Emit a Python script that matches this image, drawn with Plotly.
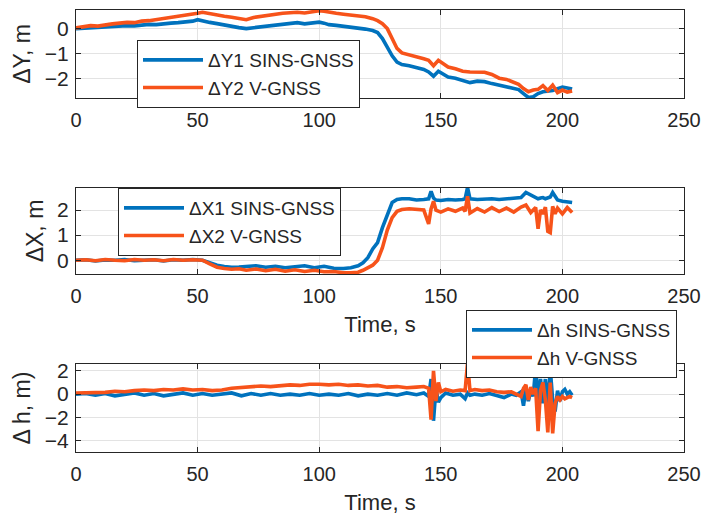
import plotly.graph_objects as go

BLUE = "#0072BD"
ORANGE = "#F7531A"

# ---------- Panel 1: dY ----------
t1 = [0, 3, 6, 9, 12, 15, 18, 21, 24, 27, 30, 33, 36, 39, 42, 45, 48, 50, 52, 55, 58, 61, 64, 67,
      70, 73, 76, 79, 82, 85, 88, 91, 94, 97, 100, 102, 104, 107, 110, 113, 116, 119, 122, 124,
      126, 128, 130, 132, 134, 137, 140, 143, 145, 147, 149, 151, 153, 156, 159, 162, 165, 168,
      171, 174, 177, 180, 182, 184, 186, 188, 190, 192, 194, 196, 198, 200, 202, 204]
dy1 = [0.00, 0.02, 0.03, 0.06, 0.05, 0.09, 0.10, 0.12, 0.11, 0.15, 0.17, 0.16, 0.20, 0.22, 0.24,
       0.27, 0.30, 0.36, 0.33, 0.25, 0.20, 0.14, 0.09, 0.04, 0.00, 0.03, 0.08, 0.10, 0.14, 0.17,
       0.20, 0.24, 0.19, 0.22, 0.26, 0.22, 0.16, 0.13, 0.10, 0.06, 0.02, -0.02, -0.08, -0.16,
       -0.40, -0.75, -1.10, -1.35, -1.45, -1.50, -1.58, -1.65, -1.75, -1.92, -1.72, -1.85, -1.95,
       -2.00, -2.08, -2.18, -2.12, -2.14, -2.22, -2.28, -2.34, -2.40, -2.46, -2.62, -2.78, -2.75,
       -2.62, -2.55, -2.52, -2.50, -2.42, -2.36, -2.40, -2.44]
dy2 = [0.03, 0.06, 0.12, 0.10, 0.16, 0.19, 0.22, 0.25, 0.24, 0.30, 0.32, 0.36, 0.40, 0.44, 0.48,
       0.53, 0.58, 0.62, 0.66, 0.60, 0.56, 0.50, 0.46, 0.41, 0.36, 0.45, 0.50, 0.55, 0.58, 0.62,
       0.64, 0.66, 0.63, 0.68, 0.72, 0.70, 0.66, 0.62, 0.58, 0.55, 0.52, 0.48, 0.40, 0.32,
       0.20, 0.00, -0.40, -0.80, -0.98, -1.05, -1.12, -1.22, -1.28, -1.50, -1.28, -1.42, -1.55,
       -1.62, -1.72, -1.75, -1.74, -1.76, -1.85, -2.00, -2.05, -2.18, -2.25, -2.42, -2.55, -2.48,
       -2.45, -2.30, -2.50, -2.28, -2.58, -2.48, -2.56, -2.52]

# ---------- Panel 2: dX ----------
t2 = [0, 4, 8, 12, 16, 20, 24, 28, 32, 36, 40, 44, 48, 52, 55, 58, 61, 64, 67, 70, 74, 78, 82, 86,
      90, 94, 98, 102, 106, 110, 113, 116, 118, 120, 122, 124, 126, 128, 130, 132, 134, 137, 140,
      143, 145, 146, 147, 148, 150, 153, 156, 159, 160, 161, 162, 165, 168, 171, 174, 177, 180,
      183, 185, 187, 189, 190, 191, 192, 193, 194, 195, 196, 197, 198, 200, 202, 204]
dx1 = [0.00, 0.02, -0.03, 0.01, 0.00, 0.03, -0.02, 0.01, 0.02, -0.03, 0.02, 0.00, 0.03, 0.00,
       -0.10, -0.20, -0.25, -0.28, -0.27, -0.25, -0.22, -0.28, -0.24, -0.30, -0.26, -0.22, -0.30,
       -0.24, -0.32, -0.33, -0.30, -0.22, -0.10, 0.10, 0.45, 0.70, 1.30, 1.85, 2.30, 2.42, 2.45,
       2.45, 2.40, 2.42, 2.45, 2.75, 2.48, 2.40, 2.38, 2.42, 2.40, 2.42, 2.45, 2.90, 2.45, 2.42,
       2.44, 2.45, 2.42, 2.44, 2.45, 2.50, 2.70, 2.60, 2.50, 2.45, 2.48, 2.50, 2.45, 2.48, 2.52,
       2.70, 2.55, 2.40, 2.35, 2.32, 2.30]
dx2 = [0.00, 0.02, -0.02, 0.03, 0.00, -0.02, 0.03, 0.00, 0.02, -0.02, 0.03, 0.00, 0.02, 0.00,
       -0.15, -0.28, -0.33, -0.36, -0.34, -0.40, -0.35, -0.42, -0.36, -0.44, -0.38, -0.45, -0.40,
       -0.46, -0.45, -0.50, -0.50, -0.48, -0.40, -0.30, -0.20, 0.00, 0.50, 1.20, 1.70, 1.95, 2.02,
       2.05, 2.02, 2.00, 1.45, 2.05, 2.35, 2.00, 1.92, 2.05, 1.95, 2.08, 1.95, 2.55, 1.88, 2.06,
       1.92, 2.10, 1.94, 2.08, 1.92, 2.12, 2.20, 1.90, 2.10, 1.25, 2.00, 1.85, 2.12, 1.15, 1.10,
       2.15, 1.85, 2.08, 1.85, 2.10, 1.90]

# ---------- Panel 3: dh ----------
t3 = [0, 4, 8, 12, 16, 20, 24, 28, 32, 36, 40, 44, 48, 52, 56, 60, 64, 68, 72, 76, 80, 84, 88, 92,
      96, 100, 104, 108, 112, 116, 120, 124, 128, 132, 136, 140, 143, 145, 146, 147, 148, 149,
      150, 152, 155, 158, 160, 161, 162, 164, 167, 170, 173, 176, 179, 181, 183, 184, 185, 186,
      187, 188, 189, 190, 191, 192, 193, 194, 195, 196, 197, 198, 199, 200, 201, 202, 203, 204]
dh1 = [0.0, 0.05, -0.1, 0.05, -0.15, 0.0, 0.1, -0.1, 0.05, -0.15, 0.0, 0.1, -0.1, 0.05, -0.1,
       0.0, 0.1, -0.15, 0.05, -0.1, 0.05, -0.1, 0.0, -0.1, 0.05, -0.1, 0.0, -0.1, 0.05, -0.15,
       0.0, -0.1, 0.05, -0.1, 0.1, -0.05, 0.1, -0.2, 1.3, -2.3, 0.5, -0.7, -0.3, 0.1, -0.1, 0.0,
       -0.4, 0.1, -0.1, 0.0, -0.1, 0.05, -0.1, -0.3, 0.0, -0.1, 0.2, -1.0, 0.5, -0.6, 0.3, -0.2,
       2.3, -0.5, 1.3, -0.8, 1.3, -1.2, 2.2, -0.5, -1.5, 0.3, -0.6, 0.2, 0.4, 0.0, 0.2, -0.1]
dh2 = [0.1, 0.12, 0.2, 0.15, 0.25, 0.2, 0.3, 0.35, 0.3, 0.4, 0.35, 0.45, 0.35, 0.4, 0.3, 0.35,
       0.5, 0.55, 0.6, 0.7, 0.65, 0.75, 0.8, 0.75, 0.85, 0.85, 0.8, 0.85, 0.75, 0.8, 0.7, 0.75,
       0.6, 0.65, 0.55, 0.6, 0.65, 0.5, -2.2, 2.0, -0.6, 1.0, 0.2, 0.4, 0.25, 0.35, 0.3, 2.7, 0.3,
       0.4, 0.3, 0.35, 0.2, 0.15, 0.2, 0.0, -0.2, 0.5, 0.8, -0.5, 0.6, 0.0, 0.5, -3.2, 0.3, 1.0,
       -0.5, -3.3, 1.0, -3.4, -0.8, -0.2, -0.5, -0.2, -0.4, -0.3, -0.2, -0.3]

x_ticks = [0, 50, 100, 150, 200, 250]
FONT = "Liberation Sans, Arial, sans-serif"
INK = "#262626"

fig = go.Figure()
LW = 3.6
fig.add_trace(go.Scatter(x=t1, y=dy1, mode="lines", name="ΔY1 SINS-GNSS",
                         line=dict(color=BLUE, width=LW), xaxis="x", yaxis="y", legend="legend"))
fig.add_trace(go.Scatter(x=t1, y=dy2, mode="lines", name="ΔY2 V-GNSS",
                         line=dict(color=ORANGE, width=LW), xaxis="x", yaxis="y", legend="legend"))
fig.add_trace(go.Scatter(x=t2, y=dx1, mode="lines", name="ΔX1 SINS-GNSS",
                         line=dict(color=BLUE, width=LW), xaxis="x2", yaxis="y2", legend="legend2"))
fig.add_trace(go.Scatter(x=t2, y=dx2, mode="lines", name="ΔX2 V-GNSS",
                         line=dict(color=ORANGE, width=LW), xaxis="x2", yaxis="y2", legend="legend2"))
fig.add_trace(go.Scatter(x=t3, y=dh1, mode="lines", name="Δh SINS-GNSS",
                         line=dict(color=BLUE, width=LW), xaxis="x3", yaxis="y3", legend="legend3"))
fig.add_trace(go.Scatter(x=t3, y=dh2, mode="lines", name="Δh V-GNSS",
                         line=dict(color=ORANGE, width=LW), xaxis="x3", yaxis="y3", legend="legend3"))

W, H = 704, 521
xdom = [76 / W, 684 / W]


def ydom(top, bot):
    return [1 - bot / H, 1 - top / H]


def xax(anchor, title=None):
    d = dict(domain=xdom, anchor=anchor, range=[0, 250], tickvals=x_ticks, automargin=False,
             showline=True, linecolor=INK, linewidth=1, mirror="ticks",
             ticks="inside", ticklen=5, tickcolor=INK, ticklabelstandoff=4,
             ticklabeloverflow="allow",
             showgrid=True, gridcolor="#e3e3e3", gridwidth=1, zeroline=False,
             tickfont=dict(family=FONT, size=20, color=INK))
    if title:
        d["title"] = dict(text=title, font=dict(family=FONT, size=22, color=INK), standoff=10)
    return d


def yax(anchor, dom, rng, ticks, title):
    return dict(domain=dom, anchor=anchor, range=rng, tickvals=ticks, automargin=False,
                showline=True, linecolor=INK, linewidth=1, mirror="ticks",
                ticks="inside", ticklen=5, tickcolor=INK, ticklabelstandoff=2,
                ticklabeloverflow="allow",
                showgrid=True, gridcolor="#e3e3e3", gridwidth=1, zeroline=False,
                tickfont=dict(family=FONT, size=21, color=INK),
                title=dict(text=title, font=dict(family=FONT, size=23, color=INK), standoff=7))


legend_common = dict(bgcolor="white", bordercolor=INK, borderwidth=1,
                     font=dict(family=FONT, size=19, color=INK),
                     xanchor="left", yanchor="top", itemwidth=60, tracegroupgap=0)

fig.update_layout(
    width=W, height=H,
    margin=dict(l=0, r=0, t=0, b=0),
    paper_bgcolor="white", plot_bgcolor="white",
    xaxis=xax("y"),
    yaxis=yax("x", ydom(10, 98), [-2.8, 0.75], [-2, -1, 0], "ΔY, m"),
    xaxis2=xax("y2", "Time, s"),
    yaxis2=yax("x2", ydom(188, 274), [-0.55, 2.88], [0, 1, 2], "ΔX, m"),
    xaxis3=xax("y3", "Time, s"),
    yaxis3=yax("x3", ydom(364, 452), [-5, 2.6], [-4, -2, 0, 2], "Δ h, m)"),
    legend=dict(x=137 / W, y=1 - 40 / H, **legend_common),
    legend2=dict(x=118 / W, y=1 - 188 / H, **legend_common),
    legend3=dict(x=466 / W, y=1 - 310 / H, **legend_common),
    showlegend=True,
)

fig.write_html("out.html")
